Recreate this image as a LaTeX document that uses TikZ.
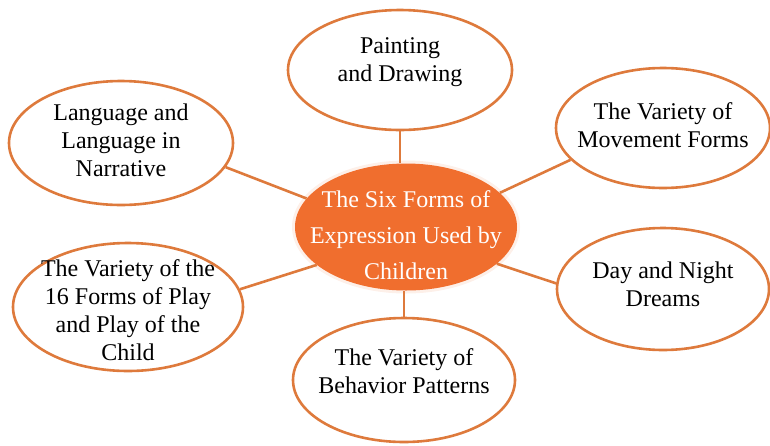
\documentclass[tikz,border=0pt]{standalone}
\usepackage{fontspec}
\setmainfont{Liberation Serif}
\usetikzlibrary{shapes.geometric}

\definecolor{rim}{HTML}{DE7A3C}
\definecolor{hub}{HTML}{F06E2E}

\begin{document}
\begin{tikzpicture}[x=1pt, y=-1pt,
  form/.style={ellipse, draw=rim, line width=2.6pt, fill=white, inner sep=0pt},
  formtext/.style={align=center, font=\fontsize{24}{28}\selectfont},
  hubtext/.style={align=center, text=white, font=\fontsize{24}{36}\selectfont},
  link/.style={draw=rim, line width=2.6pt}]
\useasboundingbox (0,0) rectangle (770,445);

\node (six) [ellipse, fill=hub, inner sep=0pt, minimum width=222pt, minimum height=127pt,
  preaction={draw=hub!30, line width=6pt, opacity=0.35}] at (406,227) {};
\node (six text) [hubtext] at (406,235) {The Six Forms of\\Expression Used by\\Children};

\node (paint) [form, minimum width=224pt, minimum height=120pt] at (400,70) {};
\node (paint text) [formtext] at (400,62) {Painting\\and Drawing};

\node (lang) [form, minimum width=224pt, minimum height=124pt] at (121,143) {};
\node (lang text) [formtext] at (121,140) {Language and\\Language in\\Narrative};

\node (move) [form, minimum width=214pt, minimum height=120pt] at (663,128) {};
\node (move text) [formtext] at (663,125) {The Variety of\\Movement Forms};

\node (day) [form, minimum width=212pt, minimum height=122pt] at (663,289) {};
\node (day text) [formtext] at (663,284) {Day and Night\\Dreams};

\node (play) [form, minimum width=230pt, minimum height=128pt] at (128,307) {};
\node (play text) [formtext] at (128,310) {The Variety of the\\16 Forms of Play\\and Play of the\\Child};

\node (behav) [form, minimum width=222pt, minimum height=124pt] at (404,380) {};
\node (behav text) [formtext] at (404,371) {The Variety of\\Behavior Patterns};

\draw [link] (paint.south) -- (paint.south |- six.north);
\draw [link] (behav.north) -- (behav.north |- six.south);
\draw [link] (lang.-13) -- (six.164);
\draw [link] (move.199) -- (six.20);
\draw [link] (play.9) -- (six.203);
\draw [link] (day.177) -- (six.-22);

\end{tikzpicture}
\end{document}
